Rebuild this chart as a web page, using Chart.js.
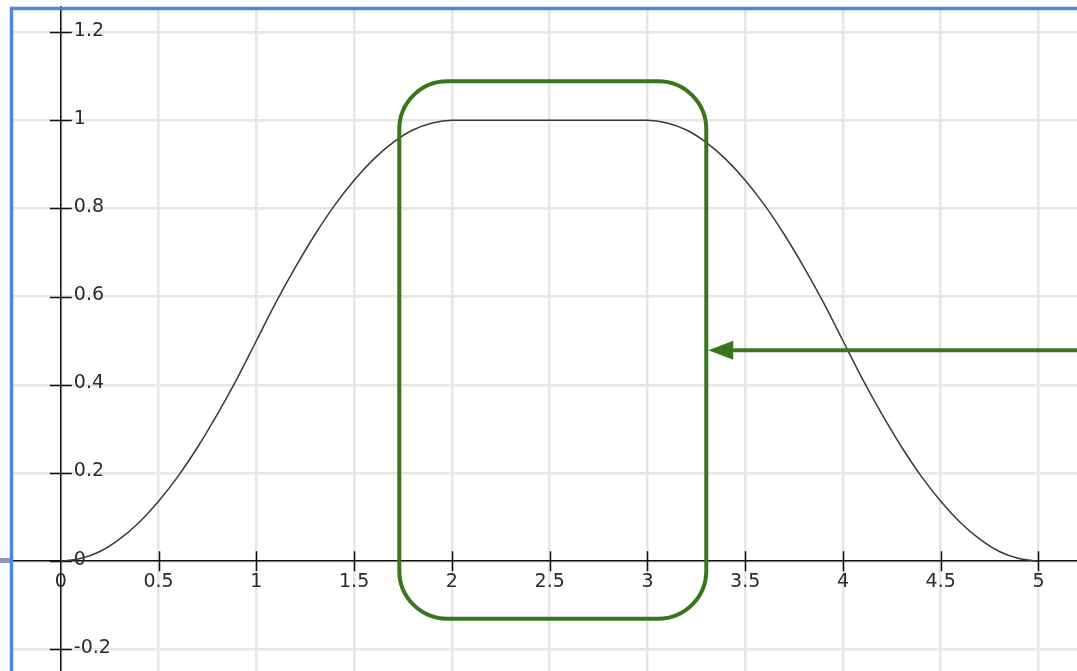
<!DOCTYPE html>
<html>
<head>
<meta charset="utf-8">
<script src="https://cdn.jsdelivr.net/npm/chart.js@4.4.1/dist/chart.umd.min.js"></script>
<style>
    html, body { margin: 0; padding: 0; background: #fff; }
    #wrap { position: relative; width: 1077px; height: 671px; }
</style>
</head>
<body>
<div id="wrap"><canvas id="chart"></canvas></div>
<script>
// Plateau curve: rises from 0 to 1, stays flat, falls back to 0.
const xValues = [
    0, 0.1, 0.2, 0.3, 0.4, 0.5, 0.6, 0.7, 0.8, 0.9,
    1, 1.1, 1.2, 1.3, 1.4, 1.5, 1.6, 1.7, 1.8, 1.9,
    2, 2.1, 2.2, 2.3, 2.4, 2.5, 2.6, 2.7, 2.8, 2.9,
    3, 3.1, 3.2, 3.3, 3.4, 3.5, 3.6, 3.7, 3.8, 3.9,
    4, 4.1, 4.2, 4.3, 4.4, 4.5, 4.6, 4.7, 4.8, 4.9,
    5,
];
const yValues = [
    0, 0.006, 0.022, 0.05, 0.088, 0.136, 0.193, 0.259, 0.333, 0.413,
    0.5, 0.587, 0.667, 0.741, 0.807, 0.864, 0.912, 0.95, 0.978, 0.994,
    1, 1, 1, 1, 1, 1, 1, 1, 1, 1,
    1, 0.994, 0.978, 0.95, 0.912, 0.864, 0.807, 0.741, 0.667, 0.587,
    0.5, 0.413, 0.333, 0.259, 0.193, 0.136, 0.088, 0.05, 0.022, 0.006,
    0,
];
const xTicks = [0, 0.5, 1, 1.5, 2, 2.5, 3, 3.5, 4, 4.5, 5];
const yTicks = [-0.2, 0, 0.2, 0.4, 0.6, 0.8, 1, 1.2];

// visible window
const X_MIN = -0.26;
const X_MAX = 5.197;
const Y_MIN = -0.249;
const Y_MAX = 1.257;

// highlight box around the plateau and the arrow pointing at it
const highlightBox = { x1: 1.731, x2: 3.301, y1: -0.1304, y2: 1.0885, radius: 48 };
const pointerArrow = { y: 0.4783, tipX: 3.311, headLength: 25, headHalf: 9.5 };

const GREEN = '#38761d';
const FRAME_BLUE = '#4f86e6';
const LABEL_FONT = '19px "DejaVu Sans"';

function formatTick(v) {
    return String(Number(v.toFixed(2)));
}

function setTicks(list) {
    return (scale) => {
        scale.ticks = list.map((v) => ({ value: v }));
    };
}

const axisDecor = {
    id: 'axisDecor',
    beforeDatasetsDraw(chart) {
        const { ctx, scales: { x, y } } = chart;
        const x0 = x.getPixelForValue(0);
        const y0 = y.getPixelForValue(0);

        ctx.save();
        ctx.strokeStyle = '#111';
        ctx.lineWidth = 1.5;
        ctx.beginPath();
        xTicks.forEach((v) => {
            if (v === 0) return;
            const px = Math.round(x.getPixelForValue(v)) + 0.5;
            ctx.moveTo(px, y0 - 10);
            ctx.lineTo(px, y0 + 10);
        });
        yTicks.forEach((v) => {
            const py = Math.round(y.getPixelForValue(v)) + 0.5;
            ctx.moveTo(x0 - 11, py);
            ctx.lineTo(x0 + 11, py);
        });
        ctx.stroke();

        ctx.fillStyle = '#2b2b2b';
        ctx.font = LABEL_FONT;
        ctx.textAlign = 'left';
        ctx.textBaseline = 'middle';
        yTicks.forEach((v) => {
            ctx.fillText(formatTick(v), x0 + 13, y.getPixelForValue(v) - 1.5);
        });
        ctx.restore();
    },
    afterDatasetsDraw(chart) {
        const { ctx, chartArea, scales: { x, y } } = chart;

        ctx.save();
        ctx.strokeStyle = GREEN;
        ctx.fillStyle = GREEN;
        ctx.lineWidth = 4;

        const bx1 = x.getPixelForValue(highlightBox.x1);
        const bx2 = x.getPixelForValue(highlightBox.x2);
        const by1 = y.getPixelForValue(highlightBox.y2);
        const by2 = y.getPixelForValue(highlightBox.y1);
        ctx.beginPath();
        ctx.roundRect(bx1, by1, bx2 - bx1, by2 - by1, highlightBox.radius);
        ctx.stroke();

        const ay = y.getPixelForValue(pointerArrow.y);
        const tip = x.getPixelForValue(pointerArrow.tipX);
        const base = tip + pointerArrow.headLength;
        ctx.beginPath();
        ctx.moveTo(base - 1, ay);
        ctx.lineTo(chartArea.right, ay);
        ctx.stroke();
        ctx.beginPath();
        ctx.moveTo(tip, ay);
        ctx.lineTo(base, ay - pointerArrow.headHalf);
        ctx.lineTo(base, ay + pointerArrow.headHalf);
        ctx.closePath();
        ctx.fill();
        ctx.restore();
    },
    afterDraw(chart) {
        const { ctx, chartArea, width, height, scales: { y } } = chart;
        ctx.save();
        // little stub of the x axis left of the frame
        ctx.fillStyle = '#9295bb';
        ctx.fillRect(0, Math.round(y.getPixelForValue(0)) - 3, chartArea.left, 5);

        ctx.strokeStyle = FRAME_BLUE;
        ctx.lineWidth = 3.5;
        ctx.beginPath();
        ctx.moveTo(chartArea.left + 1.5, height);
        ctx.lineTo(chartArea.left + 1.5, chartArea.top + 1.5);
        ctx.lineTo(width, chartArea.top + 1.5);
        ctx.stroke();
        ctx.restore();
    },
};

const ctx = document.getElementById('chart');

const chartSpec = {
    type: 'line',
    data: {
        datasets: [
            {
                data: xValues.map((v, i) => ({ x: v, y: yValues[i] })),
                borderColor: '#3a3a3a',
                borderWidth: 1.5,
                pointRadius: 0,
                cubicInterpolationMode: 'monotone',
                fill: false,
            },
        ],
    },
    options: {
        responsive: true,
        maintainAspectRatio: false,
        devicePixelRatio: 1,
        animation: false,
        layout: {
            padding: { left: 10, top: 7, right: 0, bottom: 0 },
        },
        plugins: {
            legend: { display: false },
            tooltip: { enabled: false },
        },
        scales: {
            x: {
                type: 'linear',
                position: { y: 0 },
                min: X_MIN,
                max: X_MAX,
                afterBuildTicks: setTicks(xTicks),
                grid: {
                    color: '#e6e6e6',
                    lineWidth: 2.5,
                    drawTicks: false,
                },
                border: {
                    display: true,
                    color: '#111',
                    width: 1.5,
                },
                ticks: {
                    autoSkip: false,
                    maxRotation: 0,
                    padding: 9,
                    color: '#2b2b2b',
                    font: { family: 'DejaVu Sans', size: 19 },
                    callback: (v) => formatTick(v),
                },
            },
            y: {
                type: 'linear',
                position: { x: 0 },
                min: Y_MIN,
                max: Y_MAX,
                afterBuildTicks: setTicks(yTicks),
                grid: {
                    color: '#e6e6e6',
                    lineWidth: 2.5,
                    drawTicks: false,
                },
                border: {
                    display: true,
                    color: '#111',
                    width: 1.5,
                },
                ticks: {
                    display: false,
                },
            },
        },
    },
    plugins: [axisDecor],
};

const chart = new Chart(ctx, chartSpec);
</script>
</body>
</html>
